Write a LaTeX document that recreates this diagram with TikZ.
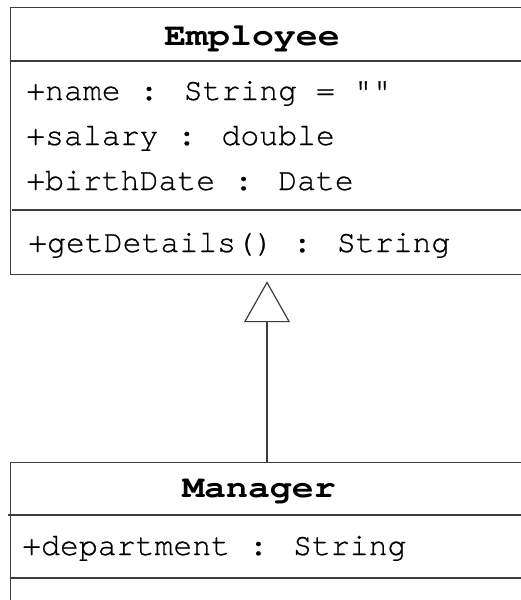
\documentclass[tikz,border=0pt]{standalone}
\usepackage{fontspec}
\usetikzlibrary{arrows.meta,positioning}
\newfontfamily\umlmono{texgyrecursor}[Extension=.otf,UprightFont=*-regular,BoldFont=*-bold,UprightFeatures={FakeBold=0.6}]
\definecolor{umlline}{RGB}{60,60,60}
\newcommand{\umltext}{\umlmono\fontsize{31.5}{36}\selectfont}
\newcommand{\umltitle}{\umlmono\fontsize{31.5}{36}\selectfont\bfseries\addfontfeature{FakeStretch=1.16}}

\begin{document}
\begin{tikzpicture}[x=1pt,y=-1pt,
  classbox/.style={draw=umlline,line width=1.2pt,anchor=north west,inner sep=0pt,minimum width=530pt},
  member/.style={anchor=base west,inner sep=0pt,font=\umltext},
  classname/.style={anchor=base,inner sep=0pt,font=\umltitle}]
  \useasboundingbox (0,0) rectangle (520,600);
  % Employee class
  \node[classbox,minimum height=267pt] (employee) at (10,7) {};
  \draw[umlline,line width=1.2pt] (10,61) -- (540,61);
  \draw[umlline,line width=1.2pt] (12,210) -- (540,210);
  \node[classname] (employeename) at (252,45) {Employee};
  \node[member] (ename) at (26,100) {+name : String = ""};
  \node[member] (esalary) at (26,145) {+salary : double};
  \node[member] (ebirth) at (26,190) {+birthDate : Date};
  \node[member] (edetails) at (28,252) {+getDetails() : String};
  % Manager class
  \node[classbox,minimum height=160pt] (manager) at (10,462) {};
  \draw[umlline,line width=1.2pt] (8,515) -- (540,515);
  \draw[umlline,line width=1.2pt] (10,578) -- (540,578);
  \node[classname] (managername) at (259,497) {Manager};
  \node[member] (mdept) at (22,555) {+department : String};
  % generalization
  \coordinate (gen) at (267,462);
  \draw[umlline,line width=1.2pt,shorten >=6pt,-{Triangle[open,length=41pt,width=46pt,line width=1.2pt]}]
    (gen) -- (gen |- employee.south);
\end{tikzpicture}
\end{document}
